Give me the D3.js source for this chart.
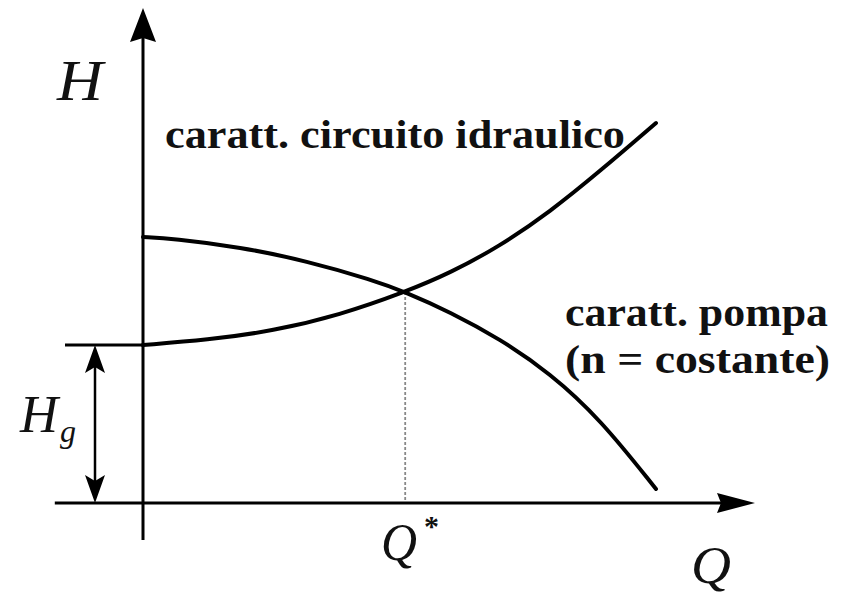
<!DOCTYPE html>
<html><head><meta charset="utf-8">
<script src="https://cdn.jsdelivr.net/npm/d3@7"></script>
<style>html,body{margin:0;padding:0;background:#fff;}svg{display:block;}</style>
</head><body>
<svg id="c" width="843" height="605"></svg>
<script>
// Data (arbitrary units: Q flow, H head)
const circuitQ = [0, 10.7, 21.7, 32.8, 43.7, 51.2, 59.5, 67.8, 76.2, 85.5];
const circuitH = [31.6, 32.6, 34.4, 37.6, 42.2, 46.0, 51.4, 58.2, 66.4, 76.0];
const pumpQ = [0, 5, 16.2, 27.3, 38.3, 43.7, 51.2, 59.5, 67.8, 76.2, 85.5];
const pumpH = [53.2, 52.9, 51.2, 48.4, 44.6, 42.2, 38.2, 32.8, 26.0, 16.8, 2.8];
const Hg = 31.6;
const Qstar = 43.7;
const Hstar = 42.2;
const xExtent = [-14.7, 102];
const yExtent = [-7.4, 99];
const labels = {
  H: "H", Q: "Q", Qs: "Q", Hg: "H", g: "g",
  circuit: "caratt. circuito idraulico",
  pump1: "caratt. pompa", pump2: "(n = costante)"
};

const svg = d3.select("#c");
const x = d3.scaleLinear().domain([0, 102]).range([143, 755]);
const y = d3.scaleLinear().domain([0, 99]).range([503, 8]);
const serif = "'Liberation Serif', 'DejaVu Serif', serif";

// dotted line at Q*
svg.append("line")
  .attr("x1", x(Qstar)).attr("x2", x(Qstar))
  .attr("y1", y(Hstar)).attr("y2", y(0))
  .attr("stroke", "#888").attr("stroke-width", 1.8).attr("stroke-dasharray", "3,2");

// axes
svg.append("line").attr("x1", x(xExtent[0])).attr("x2", x(xExtent[1]) - 10)
  .attr("y1", y(0)).attr("y2", y(0)).attr("stroke", "#000").attr("stroke-width", 3);
svg.append("line").attr("x1", x(0)).attr("x2", x(0))
  .attr("y1", y(yExtent[0])).attr("y2", y(yExtent[1]) + 10).attr("stroke", "#000").attr("stroke-width", 3);
// arrowheads
const xt = x(xExtent[1]), yt = y(yExtent[1]);
svg.append("path").attr("d", `M${xt},${y(0)} L${xt-38},${y(0)-10} L${xt-34},${y(0)} L${xt-38},${y(0)+10} Z`).attr("fill", "#000");
svg.append("path").attr("d", `M${x(0)},${yt} L${x(0)-13},${yt+34} L${x(0)},${yt+30} L${x(0)+13},${yt+34} Z`).attr("fill", "#000");

// Hg horizontal
svg.append("line").attr("x1", 65).attr("x2", x(0))
  .attr("y1", y(Hg)).attr("y2", y(Hg)).attr("stroke", "#000").attr("stroke-width", 3);
// double arrow
const ax = 95;
svg.append("line").attr("x1", ax).attr("x2", ax).attr("y1", y(Hg) + 20).attr("y2", y(0) - 20)
  .attr("stroke", "#000").attr("stroke-width", 2.5);
const t1 = y(Hg), t2 = y(0);
svg.append("path").attr("d", `M${ax},${t1} L${ax-10},${t1+28} L${ax},${t1+22} L${ax+10},${t1+28} Z`).attr("fill", "#000");
svg.append("path").attr("d", `M${ax},${t2} L${ax-10},${t2-28} L${ax},${t2-22} L${ax+10},${t2-28} Z`).attr("fill", "#000");

// curves
const line = d3.line().x(d => x(d[0])).y(d => y(d[1])).curve(d3.curveBasis);
svg.append("path").datum(circuitQ.map((q, i) => [q, circuitH[i]]))
  .attr("d", line).attr("fill", "none").attr("stroke", "#000").attr("stroke-width", 4).attr("stroke-linecap", "round");
svg.append("path").datum(pumpQ.map((q, i) => [q, pumpH[i]]))
  .attr("d", line).attr("fill", "none").attr("stroke", "#000").attr("stroke-width", 4).attr("stroke-linecap", "round");

// text
function txt(s, px, py, size, opts = {}) {
  const t = svg.append("text").attr("x", px).attr("y", py).text(s)
    .attr("font-family", serif).attr("font-size", size).attr("fill", "#111");
  if (opts.italic) t.attr("font-style", "italic");
  if (opts.bold) t.attr("font-weight", "bold");
  if (opts.len) t.attr("textLength", opts.len).attr("lengthAdjust", "spacingAndGlyphs");
  return t;
}
txt(labels.H, 57, 100, 56, {italic: true, len: 46});
txt(labels.circuit, 165, 148, 40, {bold: true, len: 460});
txt(labels.pump1, 565, 326, 40, {bold: true, len: 263});
txt(labels.pump2, 565, 373, 40, {bold: true, len: 265});
txt(labels.Hg, 20, 432, 52, {italic: true, len: 38});
txt(labels.g, 60, 442, 32, {italic: true});
txt(labels.Qs, 381, 560, 52, {italic: true, len: 36});
svg.append("text").attr("x", 424).attr("y", 536).text("*")
  .attr("font-family", serif).attr("font-size", 30).attr("font-weight", "bold").attr("fill", "#111");
txt(labels.Q, 691, 583, 52, {italic: true, len: 40});
</script>
</body></html>
